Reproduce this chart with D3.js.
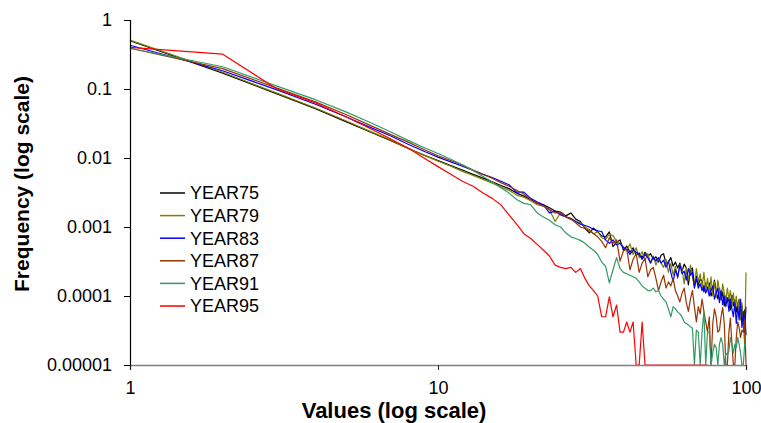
<!DOCTYPE html>
<html>
<head>
<meta charset="utf-8">
<script src="https://cdn.jsdelivr.net/npm/d3@7"></script>
<style>
  body { margin: 0; background: #fff; }
  svg { display: block; font-family: "Liberation Sans", Arial, sans-serif; }
</style>
</head>
<body>
<svg id="chart"></svg>
<script>
// values on the x axis (1..100)
var xValues = [1,2,3,4,5,6,7,8,9,10,11,12,13,14,15,16,17,18,19,20,
  21,22,23,24,25,26,27,28,29,30,31,32,33,34,35,36,37,38,39,40,
  41,42,43,44,45,46,47,48,49,50,51,52,53,54,55,56,57,58,59,60,
  61,62,63,64,65,66,67,68,69,70,71,72,73,74,75,76,77,78,79,80,
  81,82,83,84,85,86,87,88,89,90,91,92,93,94,95,96,97,98,99,100];

var seriesNames = ["YEAR75", "YEAR79", "YEAR83", "YEAR87", "YEAR91", "YEAR95"];
var seriesColors = ["#000000", "#808000", "#0000ff", "#993300", "#339966", "#ff0000"];

var year75 = [0.50,0.17,0.085,0.052,0.034,0.024,0.018,0.0137,0.011,0.0092,
  0.0078,0.0067,0.0058,0.0051,0.0045,0.0040,0.0036,0.0031,0.0028,0.0025,
  0.0022,0.0021,0.0019,0.0017,0.00165,0.00145,0.0016,0.0013,0.0012,0.00096,
  0.00082,0.00096,0.00085,0.00074,0.00072,0.00085,0.00052,0.0006,0.00065,0.00046,
  0.00053,0.00043,0.0005,0.00039,0.00042,0.00036,0.00043,0.00038,0.00041,0.00034,
  0.00037,0.00031,0.00039,0.00041,0.00029,0.00031,0.00036,0.00027,0.00031,0.000255,
  0.0003,0.00023,0.00029,0.000255,0.000145,0.00024,0.000255,0.00014,0.000195,0.000145,
  0.000175,0.000165,0.000115,0.000155,0.000125,0.000155,0.0001,0.00012,0.00017,0.000115,
  0.000091,0.00013,0.000088,0.000115,0.000072,0.0001,0.000082,0.000094,0.000063,0.000103,
  0.000072,0.000088,0.000059,0.000077,0.000088,0.000051,0.000072,0.000038,0.000063,0.000027];

var year79 = [0.51,0.175,0.087,0.053,0.035,0.0245,0.0183,0.0138,0.011,0.009,
  0.0076,0.0064,0.0056,0.0049,0.0043,0.0038,0.0034,0.0029,0.0027,0.0024,
  0.0021,0.002,0.0018,0.0012,0.0016,0.0014,0.00135,0.0012,0.00115,0.001,
  0.00092,0.0008,0.00085,0.0007,0.00066,0.00078,0.00075,0.00062,0.00058,0.00052,
  0.00045,0.00057,0.0004,0.0005,0.00036,0.00044,0.00033,0.00041,0.0003,0.00038,
  0.00028,0.00035,0.0003,0.00026,0.00034,0.00022,0.0003,0.0002,0.00027,0.00018,
  0.00029,0.00024,0.00015,0.00026,0.00017,0.00028,0.00019,0.00014,0.00025,0.00016,
  0.00021,0.00013,0.00022,0.00012,0.00018,0.00011,0.00019,0.0001,0.00016,0.000095,
  0.00017,0.00012,0.00009,0.00015,0.00011,0.000085,0.00013,0.00009,0.00012,0.00007,
  0.00011,0.000065,0.0001,0.00006,0.00009,0.000045,0.00008,0.00004,0.00002,0.00022];

var year83 = [0.43,0.184,0.097,0.06,0.04,0.028,0.021,0.0158,0.0125,0.0103,
  0.0088,0.0076,0.0066,0.0058,0.0052,0.0046,0.0041,0.0032,0.0032,0.0026,
  0.0023,0.0021,0.0016,0.0017,0.0015,0.0014,0.0013,0.0012,0.0011,0.00105,
  0.001,0.00092,0.00088,0.00086,0.00065,0.00058,0.00065,0.00055,0.00058,0.0005,
  0.00047,0.0004,0.00046,0.00043,0.0004,0.00034,0.0004,0.00036,0.0003,0.00037,
  0.00032,0.00036,0.0003,0.00033,0.00026,0.00032,0.00022,0.00016,0.00024,0.00019,
  0.00028,0.00021,0.00023,0.00017,0.00025,0.0002,0.00022,0.00013,0.00018,0.00013,
  0.00015,0.00012,0.00014,0.00011,0.00013,0.0001,0.00012,0.00014,0.00009,0.00011,
  0.00013,0.00008,0.00012,0.000075,0.0001,0.00007,0.000095,0.00006,0.00009,0.000065,
  0.00005,0.00008,0.00004,0.00007,0.000045,0.00009,0.000035,0.00006,0.00003,0.00007];

var year87 = [0.39,0.197,0.103,0.065,0.043,0.03,0.022,0.017,0.0133,0.0108,
  0.0092,0.0079,0.0067,0.0058,0.0051,0.0044,0.0039,0.0034,0.003,0.0025,
  0.0022,0.002,0.0018,0.0016,0.0016,0.0014,0.0013,0.00115,0.001,0.00095,
  0.00088,0.0008,0.00072,0.00062,0.0005,0.0007,0.00058,0.00065,0.00032,0.00045,
  0.00048,0.00024,0.00034,0.00041,0.00022,0.0003,0.00035,0.00019,0.00024,0.00026,
  0.00018,0.00012,0.00016,0.0002,0.00013,0.00016,0.00014,0.00018,0.00012,0.0001,
  0.000082,0.00011,0.00013,0.00008,0.00006,0.00009,0.00012,0.00007,0.000042,0.00007,
  0.000055,0.00009,0.00006,0.000042,0.00003,0.00005,0,0.00004,0.000065,0.00005,
  0.00003,0.000032,0.00005,0.000068,0.00004,0,0,0.00003,0.000048,0.00002,
  0,0,0.000025,0.000042,0.000035,0.000025,0.000032,0.00003,0.000045,0];

var year91 = [0.39,0.21,0.11,0.07,0.047,0.033,0.024,0.018,0.0142,0.0116,
  0.0096,0.008,0.0066,0.0054,0.0045,0.0037,0.0031,0.0025,0.0022,0.0021,
  0.0016,0.0014,0.00125,0.00108,0.001,0.00082,0.00072,0.00068,0.00064,0.00058,
  0.00051,0.00046,0.0004,0.00031,0.00027,0.000155,0.00024,0.00036,0.00025,0.00022,
  0.00021,0.0002,0.00019,0.00018,0.00016,0.00014,0.00013,0.00012,0.00012,0.00013,
  0.000115,0.00012,0.0001,0.00009,0.000082,0.000065,0.00005,0.00007,0.000065,0.000059,
  0.000055,0.00005,0.000042,0.00004,0.000038,0.000036,0.000034,0,0.000032,0.00003,
  0,0.00003,0.00006,0,0.00003,0.00003,0,0.000015,0.00002,0.000018,
  0,0.00002,0.000025,0.00002,0,0.000015,0.000014,0.000016,0.000025,0.00002,
  0.000015,0.00002,0.000018,0.000025,0.00002,0.000015,0,0,0.00002,0.00002];

var year95 = [0.40,0.32,0.10,0.063,0.04,0.027,0.019,0.014,0.01,0.0075,
  0.0058,0.0046,0.0039,0.0031,0.0026,0.0021,0.0015,0.0011,0.0008,0.00068,
  0.00056,0.00046,0.00038,0.00028,0.00026,0.00025,0.00026,0.00022,0.00025,0.00018,
  0.00014,0.00012,0.0001,0.00005,0.00005,0.000097,0.00005,0.000074,0.00003,0.00003,
  0.000042,0.00003,0.000042,0,0,0.000042,0,0,0,0,
  0,0,0,0,0,0,0,0,0,0,
  0,0,0,0,0,0,0,0,0,0,
  0,0,0,0,0];

var yTickValues = [1, 0.1, 0.01, 0.001, 0.0001, 0.00001];
var yTickLabels = ["1", "0.1", "0.01", "0.001", "0.0001", "0.00001"];
var xTickValues = [1, 10, 100];
var xTickLabels = ["1", "10", "100"];

var allSeries = [year75, year79, year83, year87, year91, year95];

var W = 761, H = 423;
var margin = { top: 20, right: 15, bottom: 58, left: 130 };

var svg = d3.select("#chart").attr("width", W).attr("height", H);
svg.append("rect").attr("width", W).attr("height", H).attr("fill", "#fff");

var x = d3.scaleLog().domain([1, 100]).range([margin.left, W - margin.right]);
var y = d3.scaleLog().domain([0.00001, 1]).range([H - margin.bottom, margin.top]);
var yMin = 0.00001;

// series lines (zero values drop onto the bottom axis)
var line = d3.line()
  .x(function(d) { return x(d.x); })
  .y(function(d) { return y(Math.max(d.v, yMin)); });

allSeries.forEach(function(vals, i) {
  var pts = vals.map(function(v, j) { return { x: xValues[j], v: v }; });
  svg.append("path")
    .datum(pts)
    .attr("fill", "none")
    .attr("stroke", seriesColors[i])
    .attr("stroke-width", 1.2)
    .attr("stroke-linejoin", "round")
    .attr("d", line);
});

// x axis
var gx = svg.append("g")
  .attr("transform", "translate(0," + (H - margin.bottom) + ")")
  .call(d3.axisBottom(x).tickValues(xTickValues)
    .tickFormat(function(d, i) { return xTickLabels[i]; })
    .tickSize(5).tickPadding(11));
gx.select(".domain").attr("stroke", "#808080").attr("stroke-width", 1.5);
gx.selectAll(".tick line").attr("stroke", "#222");
gx.selectAll("text").attr("font-size", "18px").attr("fill", "#000")
  .attr("font-family", "Liberation Sans, Arial, sans-serif");

// y axis
var gy = svg.append("g")
  .attr("transform", "translate(" + margin.left + ",0)")
  .call(d3.axisLeft(y).tickValues(yTickValues)
    .tickFormat(function(d, i) { return yTickLabels[i]; })
    .tickSize(6).tickPadding(12));
gy.select(".domain").attr("stroke", "#000").attr("stroke-width", 1.2);
gy.selectAll("text").attr("font-size", "18px").attr("fill", "#000")
  .attr("font-family", "Liberation Sans, Arial, sans-serif");

// axis titles
svg.append("text")
  .attr("x", 394)
  .attr("y", 418)
  .attr("text-anchor", "middle")
  .attr("font-size", "22px")
  .attr("font-weight", "bold")
  .text("Values (log scale)");

svg.append("text")
  .attr("transform", "translate(29,184) rotate(-90)")
  .attr("text-anchor", "middle")
  .attr("font-size", "21px")
  .attr("font-weight", "bold")
  .text("Frequency (log scale)");

// legend
var legend = svg.append("g").attr("transform", "translate(160,193)");
seriesNames.forEach(function(name, i) {
  var row = legend.append("g").attr("transform", "translate(0," + (i * 22.6) + ")");
  row.append("line")
    .attr("x1", 0).attr("x2", 25)
    .attr("y1", 0).attr("y2", 0)
    .attr("stroke", seriesColors[i])
    .attr("stroke-width", 1.5);
  row.append("text")
    .attr("x", 30)
    .attr("y", 0)
    .attr("dy", "0.36em")
    .attr("font-size", "18px")
    .text(name);
});
</script>
</body>
</html>
